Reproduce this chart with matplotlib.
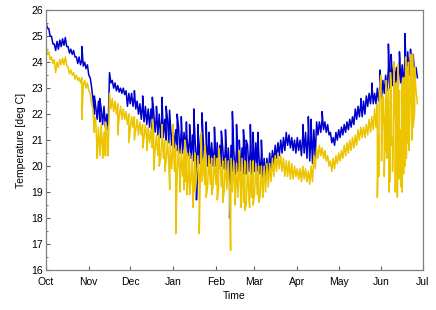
import numpy as np
import pandas as pd
import matplotlib
matplotlib.use("Agg")
import matplotlib.pyplot as plt
import matplotlib.dates as mdates

# Base band read every 2 days from Oct 1: "hi" sits on the even day,
# "lo" on the following (odd) day, which gives the jagged trace.
START = "2010-10-01"

blue_hi = [
    25.55, 25.3, 25.0, 24.7, 24.8, 24.85, 24.9, 24.95, 24.6, 24.5,
    24.45, 24.2, 24.2, 24.1, 24.0, 23.9, 23.4, 22.6, 22.3, 22.5,
    22.2, 22.3, 22.0, 23.6, 23.3, 23.2, 23.1, 23.0, 23.0, 22.9,
    22.8, 22.8, 22.7, 22.5, 22.4, 22.4, 22.3, 22.2, 22.2, 22.1,
    22.0, 22.0, 21.9, 21.8, 21.8, 21.7, 21.5, 21.4, 21.5, 21.4,
    21.3, 21.2, 21.1, 21.2, 21.0, 21.0, 21.2, 20.9, 20.8, 21.0,
    20.9, 20.8, 20.9, 20.8, 20.7, 20.8, 20.7, 20.8, 20.6, 20.7,
    20.6, 20.7, 20.6, 20.8, 20.7, 20.8, 20.9, 20.6, 20.4, 20.3,
    20.3, 20.5, 20.6, 20.8, 20.9, 21.0, 21.1, 21.3, 21.2, 21.1,
    21.0, 21.1, 21.0, 21.2, 21.3, 21.4, 21.2, 21.4, 21.7, 21.7,
    21.8, 21.7, 21.6, 21.3, 21.1, 21.3, 21.4, 21.5, 21.6, 21.7,
    21.8, 21.9, 22.2, 22.3, 22.4, 22.5, 22.7, 22.8, 22.9, 22.8,
    23.0, 23.1, 23.3, 23.5, 23.8, 23.9, 24.0, 23.8, 24.1, 23.9,
    24.2, 24.4, 24.3, 24.2, 23.8,
]
blue_lo = [
    25.3, 25.0, 24.7, 24.45, 24.5, 24.6, 24.65, 24.6, 24.35, 24.3,
    24.2, 23.95, 23.9, 23.85, 23.75, 23.5, 23.05, 22.0, 21.8, 21.7,
    21.6, 21.5, 21.4, 23.2, 23.0, 22.9, 22.85, 22.8, 22.75, 22.3,
    22.4, 22.3, 22.2, 22.0, 21.8, 21.7, 21.6, 21.5, 21.4, 21.3,
    21.2, 21.1, 21.1, 21.0, 20.9, 20.8, 20.7, 20.6, 20.5, 20.5,
    20.4, 20.4, 20.3, 20.2, 20.2, 20.1, 20.2, 20.1, 20.0, 20.1,
    20.0, 20.0, 19.9, 20.0, 19.9, 19.8, 19.8, 19.8, 19.7, 19.8,
    19.8, 19.7, 19.7, 19.8, 19.7, 19.8, 19.8, 19.7, 19.6, 19.5,
    19.6, 19.9, 20.1, 20.3, 20.4, 20.5, 20.6, 20.8, 20.7, 20.6,
    20.5, 20.6, 20.4, 20.5, 20.3, 20.2, 20.1, 20.3, 21.2, 21.3,
    21.4, 21.3, 21.2, 20.9, 20.8, 21.0, 21.1, 21.2, 21.3, 21.4,
    21.5, 21.6, 21.8, 21.9, 21.9, 22.0, 22.3, 22.4, 22.4, 22.4,
    22.5, 22.6, 22.8, 22.9, 23.0, 23.1, 23.2, 22.9, 23.2, 23.0,
    23.3, 23.5, 23.5, 23.4, 23.4,
]
# (day after Oct 1, value) for the narrow spikes
blue_spikes = [
    (26, 24.6), (35, 22.7), (39, 22.6), (64, 22.9), (70, 22.7), (77, 22.65), (80, 22.3),
    (84, 22.65), (87, 22.3), (89.5, 22.15), (95, 22.0), (98, 21.9), (101.7, 21.7),
    (104, 21.6), (107, 22.2), (109, 18.7), (110, 21.6), (113, 22.05), (116, 21.7),
    (118, 21.3), (122, 21.5), (127, 21.35), (130, 21.4), (133, 18.0), (135, 22.1),
    (138, 21.6), (140, 21.0), (143, 21.4), (145, 21.0), (148, 21.6), (150, 21.3),
    (153.5, 21.3), (156, 21.0), (186, 21.6), (190, 21.9), (192, 21.8), (200, 22.1),
    (228, 22.6), (236, 23.2), (242, 23.7), (248, 24.7), (250, 24.3), (254, 23.6),
    (256, 24.4), (260, 25.1), (264, 24.5), (266, 24.3),
]

yellow_hi = [
    24.6, 24.4, 24.2, 24.1, 24.0, 24.1, 24.15, 24.2, 23.8, 23.7,
    23.6, 23.5, 23.4, 23.4, 23.3, 23.2, 22.8, 22.2, 21.8, 21.5,
    21.6, 21.3, 21.5, 22.8, 22.6, 22.5, 22.4, 22.3, 22.2, 22.1,
    22.0, 21.9, 21.9, 21.8, 21.7, 21.6, 21.6, 21.5, 21.4, 21.3,
    21.2, 21.2, 21.1, 21.0, 21.0, 20.9, 20.8, 20.8, 20.7, 20.6,
    20.6, 20.5, 20.5, 20.4, 20.5, 20.4, 20.4, 20.3, 20.3, 20.4,
    20.3, 20.4, 20.3, 20.3, 20.2, 20.3, 20.2, 20.3, 20.2, 20.1,
    20.2, 20.3, 20.2, 20.1, 20.2, 20.2, 20.1, 20.0, 20.0, 20.0,
    20.1, 20.1, 20.3, 20.4, 20.5, 20.4, 20.3, 20.2, 20.2, 20.1,
    20.0, 19.9, 19.9, 20.0, 19.9, 19.8, 20.0, 20.4, 20.7, 20.8,
    20.7, 20.6, 20.4, 20.2, 20.3, 20.4, 20.5, 20.6, 20.8, 20.9,
    21.0, 21.1, 21.2, 21.4, 21.5, 21.5, 21.6, 21.8, 21.9, 22.2,
    22.4, 22.9, 22.7, 22.6, 23.0, 22.8, 23.2, 23.0, 22.9, 23.2,
    23.4, 23.6, 23.4, 23.1, 22.9,
]
yellow_lo = [
    24.3, 24.1, 23.95, 23.6, 23.8, 23.9, 23.9, 23.9, 23.55, 23.5,
    23.35, 23.3, 23.2, 23.1, 23.0, 22.9, 22.4, 21.3, 20.5, 20.4,
    20.5, 20.4, 20.4, 22.2, 22.1, 22.0, 21.9, 21.8, 21.8, 21.6,
    21.4, 21.5, 21.4, 21.2, 21.2, 21.1, 21.0, 20.9, 20.7, 20.6,
    20.4, 20.3, 20.3, 20.2, 20.0, 19.9, 19.8, 19.7, 19.5, 19.6,
    19.4, 19.5, 19.4, 19.2, 19.5, 19.3, 19.4, 19.3, 19.2, 19.3,
    19.2, 19.3, 19.1, 19.2, 19.0, 19.1, 19.0, 19.0, 18.9, 18.8,
    18.9, 18.6, 18.5, 18.7, 18.8, 18.9, 18.9, 18.8, 18.8, 19.0,
    19.2, 19.4, 19.6, 19.8, 19.9, 19.8, 19.6, 19.6, 19.5, 19.5,
    19.6, 19.5, 19.4, 19.5, 19.4, 19.3, 19.4, 19.9, 20.3, 20.4,
    20.3, 20.2, 20.0, 19.8, 19.9, 20.1, 20.2, 20.3, 20.4, 20.5,
    20.6, 20.7, 20.8, 21.0, 21.1, 21.1, 21.2, 21.3, 21.4, 21.5,
    21.2, 21.5, 21.3, 21.0, 21.4, 21.1, 21.5, 21.2, 21.4, 21.3,
    21.6, 21.8, 22.0, 22.1, 22.4,
]
yellow_spikes = [
    (26, 21.8), (35, 21.9), (37, 20.3), (41, 20.3), (43, 21.7), (44.5, 20.4), (52, 21.2),
    (60, 20.9), (64, 21.0), (70, 20.7), (73, 20.6), (77, 21.8), (78, 19.85), (82, 20.0),
    (84, 21.6), (86, 19.8), (89.6, 19.1), (92, 21.6), (94, 17.4), (97, 19.0), (100, 19.1),
    (100.5, 21.0), (102, 18.9), (104, 18.9), (106.5, 18.4), (108, 19.0), (111, 17.4),
    (112.5, 21.3), (115, 20.8), (116, 18.8), (120, 18.9), (124, 18.7), (125, 20.7),
    (128, 18.6), (133.7, 16.75), (137, 18.5), (140, 20.6), (141, 18.4), (144, 18.3),
    (147.5, 18.4), (150, 18.5), (154, 18.6), (157, 18.9),
    (240, 18.8), (241, 19.6), (241.5, 22.9), (242.5, 23.5), (243, 20.2), (244, 22.5),
    (245, 19.6), (246, 20.6), (246.5, 23.3), (247, 20.3), (248.5, 19.0), (249, 19.4),
    (249.5, 23.6), (250, 20.8), (251, 19.8), (252, 24.0), (253, 19.0), (253.5, 23.2),
    (254.5, 18.8), (255, 23.9), (255.5, 19.5), (256, 20.5), (257, 19.2), (258, 19.0),
    (258.5, 23.4), (259, 19.7), (260, 20.0), (260.5, 24.2), (261, 20.3), (261.5, 23.8),
    (262, 20.9), (262.5, 24.0), (263, 20.6), (264, 24.3), (265, 21.0), (265.5, 24.3),
    (266, 21.5), (267, 23.8),
]


def build_series(hi, lo, spikes):
    sp_days = [d for d, _ in spikes]
    sp_vals = [v for _, v in spikes]
    days = np.concatenate([np.arange(len(hi)) * 2.0, np.arange(len(lo)) * 2.0 + 1.0, sp_days])
    vals = np.concatenate([hi, lo, sp_vals])
    order = np.argsort(days, kind="stable")
    t = pd.Timestamp(START) + pd.to_timedelta(days[order], unit="D")
    return t, vals[order]


t_b, v_b = build_series(blue_hi, blue_lo, blue_spikes)
t_y, v_y = build_series(yellow_hi, yellow_lo, yellow_spikes)

plt.rcParams["font.family"] = ["Liberation Sans", "DejaVu Sans"]

fig = plt.figure(figsize=(4.36, 3.10), dpi=100)
ax = fig.add_axes([0.1055, 0.129, 0.8645, 0.838])

ax.plot(t_b, v_b, color="#0000CC", lw=1.1)
ax.plot(t_y, v_y, color="#ECC400", lw=1.1)

ax.set_xlim(pd.Timestamp("2010-10-01"), pd.Timestamp("2011-07-01"))
ax.set_ylim(16, 26)
ax.xaxis.set_major_locator(mdates.MonthLocator())
ax.xaxis.set_major_formatter(mdates.DateFormatter("%b"))
ax.yaxis.set_major_locator(plt.MultipleLocator(1))
ax.yaxis.set_minor_locator(plt.MultipleLocator(0.5))

ax.tick_params(axis="both", which="major", direction="in", length=3, width=0.8,
               color="#606060", labelsize=7.5)
ax.tick_params(axis="x", which="major", pad=5)
ax.tick_params(axis="y", which="major", pad=2)
ax.tick_params(axis="y", which="minor", direction="in", length=1.5, width=0.6, color="#606060")
for s in ax.spines.values():
    s.set_color("#808080")
    s.set_linewidth(0.9)

ax.set_xlabel("Time", fontsize=7.5, labelpad=3)
ax.set_ylabel("Temperature [deg C]", fontsize=7.5, labelpad=4)

fig.savefig("out.png", dpi=100)
